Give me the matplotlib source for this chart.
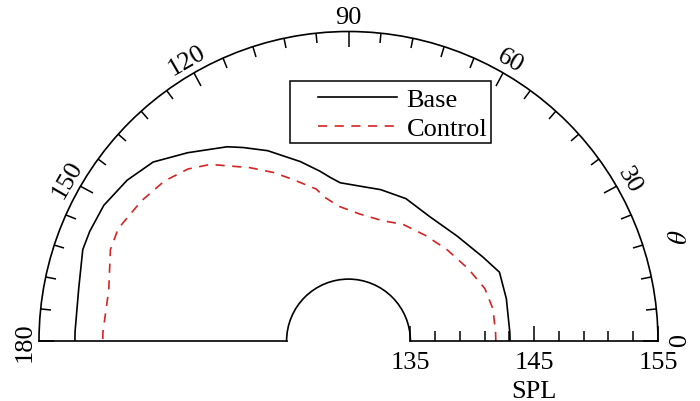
import numpy as np
import matplotlib
matplotlib.use('Agg')
import matplotlib.pyplot as plt
from matplotlib.patches import Rectangle
from matplotlib.ticker import FixedLocator

plt.rcParams['font.family'] = ['Liberation Serif', 'DejaVu Serif']
plt.rcParams['mathtext.fontset'] = 'stix'
plt.rcParams['font.size'] = 19

# directivity data (theta in degrees, SPL in dB)
base_theta = [0, 3, 15, 24.5, 32, 44, 57, 68, 78, 83, 88, 93, 96.4, 99.5, 105,
              109.4, 113, 118.6, 122, 130.5, 137.5, 144, 151, 157, 161, 169, 178, 180]
base_spl = [143.05, 143.05, 143.2, 143.4, 142.8, 142.2, 142.0, 142.4, 142.5, 142.5,
            142.6, 142.8, 143.3, 143.9, 145.0, 145.85, 146.7, 147.8, 148.5, 150.0,
            151.4, 152.1, 152.6, 152.7, 152.7, 152.2, 152.1, 152.1]

control_theta = [0, 3.4, 12.5, 21, 31, 43, 54, 65, 74, 85, 94, 99.3, 102, 109, 114,
                 119.6, 128, 133, 139, 146, 154, 159, 168, 178, 180]
control_spl = [141.9, 141.9, 141.95, 141.8, 141.3, 140.85, 140.55, 140.4, 140.1, 140.3,
               140.9, 141.75, 142.55, 143.8, 144.9, 146.1, 148.1, 149.0, 149.7, 150.2,
               150.7, 150.6, 149.8, 149.85, 149.85]

theta_labels = ['0', '30', '60', '90', '120', '150', '180']
r_labels = ['135', '145', '155']

fig = plt.figure(figsize=(7, 4.02), dpi=100)
# square box; the half disc sits in its upper part
ax = fig.add_axes([39 / 700, -94.75 / 402, 619 / 700, 619 / 402], projection='polar')
ax.set_thetamin(0)
ax.set_thetamax(180)
ax.set_rorigin(130)
ax.set_rlim(135, 155)
ax.grid(False)

ax.plot(np.deg2rad(base_theta), base_spl, color='black', lw=1.2, label='Base')
ax.plot(np.deg2rad(control_theta), control_spl, color='#d42424', lw=1.2,
        linestyle=(0, (5.5, 4.5)), label='Control')

# theta ticks on the outer arc only
ax.set_xticks(np.deg2rad(np.arange(0, 181, 30)))
ax.set_xticklabels(theta_labels)
ax.xaxis.set_minor_locator(FixedLocator(np.deg2rad(np.arange(0, 181, 6))))
ax.tick_params(axis='x', which='both', bottom=False, top=True, direction='in', width=1.1)
ax.tick_params(axis='x', which='major', length=10.5, pad=3.5)
ax.tick_params(axis='x', which='minor', length=7.5)
ax.tick_params(axis='x', labelrotation='auto')

# r ticks along the theta=0 edge only
ax.set_yticks([135, 145, 155])
ax.set_yticklabels(r_labels)
ax.yaxis.set_minor_locator(FixedLocator(np.arange(137, 155, 2)))
ax.tick_params(axis='y', which='both', left=True, right=False, direction='in', width=1.1)
ax.tick_params(axis='y', which='major', length=10.5, pad=7)
ax.tick_params(axis='y', which='minor', length=7.5)

for sp in ax.spines.values():
    sp.set_linewidth(1.2)

ax.text(np.deg2rad(18), 157.5, r'$\theta$', rotation=-90, ha='center', va='center')
ax.annotate('SPL', xy=(0, 145), xytext=(0, -40.5), textcoords='offset points',
            ha='center', va='baseline')

# legend box
fig.add_artist(Rectangle((290 / 700, 1 - 144 / 402), 201 / 700, 62 / 402,
                         transform=fig.transFigure, fill=False, lw=1.1, ec='black'))
fig.legend(loc='upper left', bbox_to_anchor=(318 / 700, 1 - 89 / 402), frameon=False,
           borderpad=0, borderaxespad=0, handlelength=3.0, handletextpad=0.35,
           labelspacing=0.2)

fig.savefig('out.png', dpi=100)
